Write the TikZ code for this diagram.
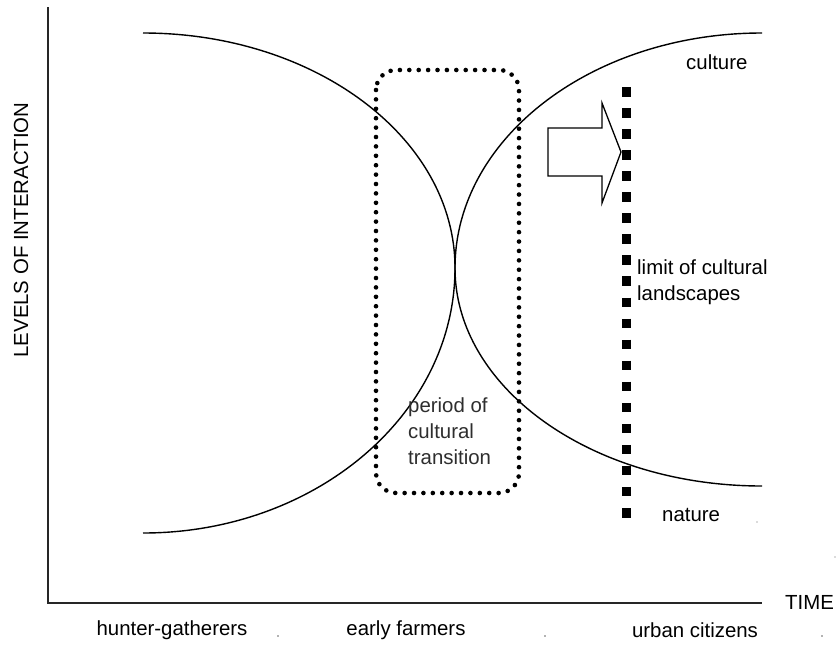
\documentclass[tikz,border=0pt]{standalone}
\usepackage{fontspec}
\setmainfont{Liberation Sans}
\begin{document}
\begin{tikzpicture}[x=1pt,y=-1pt,
  lbl/.style={font=\fontsize{20.4}{26}\selectfont, inner sep=0pt, text=black},
  graylbl/.style={lbl, text=black!82},
  curve/.style={line width=1.4pt, black},
  axis/.style={line width=1.6pt, black!85},
  speck/.style={fill=black!60, draw=none}]
\useasboundingbox[fill=white] (0,0) rectangle (840,646);
% axes
\coordinate (ytop) at (48,7);
\coordinate (orig) at (48,603);
\coordinate (xend) at (762,603);
\draw[axis] (ytop) -- (orig) -- (xend);
\node[lbl, anchor=west] (time) at (785,602) {TIME};
\node[lbl, rotate=90] (yl) at (21,230) {LEVELS OF INTERACTION};
% bottom labels
\node[lbl] (hg) at (172,630) {hunter-gatherers};
\node[lbl] (ef) at (406,630) {early farmers};
\node[lbl] (uc) at (695,630) {urban citizens};
% curves
\draw[curve] (143,33) .. controls (315.3,33) and (455,138.2) .. (455,268)
  .. controls (455,388.4) and (592.4,486) .. (762,486);
\draw[curve] (143,533) .. controls (315.3,533) and (455,414.4) .. (455,268)
  .. controls (455,138.2) and (592.4,33) .. (762,33);
% dotted rounded box
\draw[line width=4.6pt, line cap=round, dash pattern=on 0pt off 9.4pt, rounded corners=20pt]
  (376,70) rectangle (519,493);
\node[graylbl, anchor=north west, align=left] (pt) at (408,398) {period of\\cultural\\transition};
% block arrow
\draw[line width=1.3pt, fill=white] (548,128) -- (602,128) -- (602,103) -- (621,152)
  -- (602,203) -- (602,176) -- (548,176) -- cycle;
% square-dotted limit line
\coordinate (lt) at (626.5,87);
\coordinate (lb) at (626.5,517.5);
\draw[line width=9pt, dash pattern=on 9.5pt off 11.55pt] (lt) -- (lb);
% labels
\node[lbl, anchor=west] (cu) at (686,62) {culture};
\node[lbl, anchor=north west, align=left] (lim) at (637,260) {limit of cultural\\landscapes};
\node[lbl, anchor=west] (na) at (662,515) {nature};
% specks
\fill[speck] (278,636) circle (0.9);
\fill[speck] (545,636) circle (0.9);
\fill[speck] (822,636) circle (0.9);
\fill[speck] (757,522) circle (0.7);
\fill[speck] (835,557) circle (0.7);
\end{tikzpicture}
\end{document}
